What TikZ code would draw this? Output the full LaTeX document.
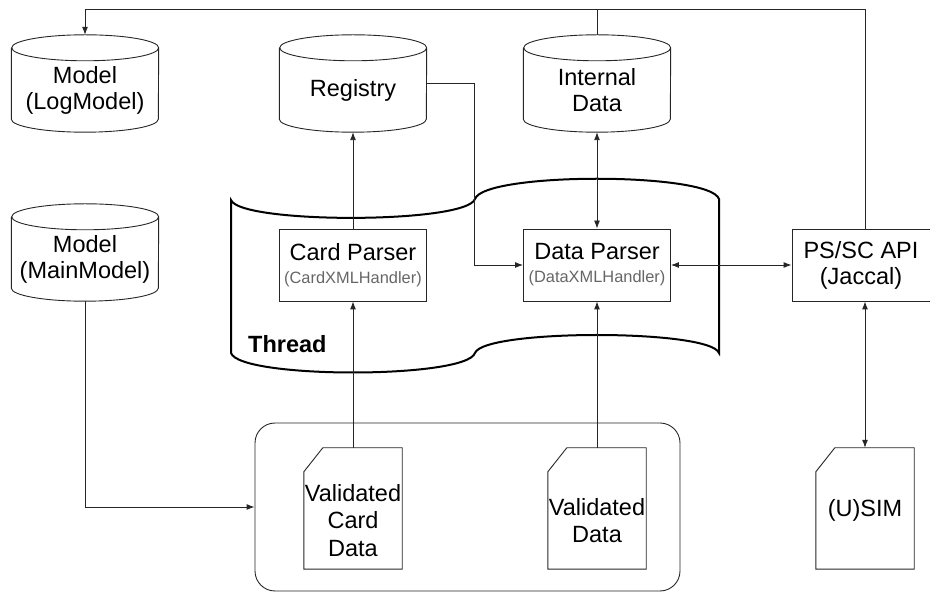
\documentclass[tikz,border=0pt]{standalone}
\usepackage{fontspec}
\setmainfont{Liberation Sans}
\usetikzlibrary{arrows.meta}

\newcommand{\handlertext}[1]{{\fontsize{16.4}{18}\selectfont\color{black!60}#1}}

\tikzset{
  base/.style={font=\fontsize{23.5}{26}\selectfont, inner sep=0pt, align=center},
  store/.style={base, text width=147pt, minimum height=84pt},
  parser/.style={base, draw=black!85, line width=0.9pt, minimum width=147pt, minimum height=72pt},
  doc/.style={base, font=\fontsize{23.5}{27.5}\selectfont, minimum width=98pt, minimum height=97pt},
  link/.style={line width=0.9pt, draw=black!85},
  >={Latex[length=8pt,width=6pt]}
}

\begin{document}
\begin{tikzpicture}[x=1pt,y=1pt]
  \useasboundingbox (0,0) rectangle (930,592);

  % data stores
  \node[store] (logm) at (85,502) {Model\\(LogModel)};
  \node[store] (reg) at (353,502) {Registry};
  \node[store] (intd) at (597,502) {Internal\\Data};
  \node[store] (mainm) at (85,333) {Model\\(MainModel)};
  \foreach \n in {logm,reg,intd,mainm}
    \draw[link] (\n.north west) -- ([yshift=13pt]\n.south west)
      arc[start angle=180,end angle=360,x radius=73.5pt,y radius=13pt]
      -- (\n.north east)
      arc[start angle=0,end angle=360,x radius=73.5pt,y radius=13pt];

  % thread
  \draw[line width=2pt] (231,392) .. controls (240,368) and (466,368) .. (475,393)
    .. controls (484,420) and (710,420) .. (719,393) -- (719,239)
    .. controls (710,263) and (484,263) .. (475,239)
    .. controls (466,213) and (240,213) .. (231,239) -- cycle;
  \node[font=\bfseries\fontsize{23.5}{26}\selectfont, anchor=base west, inner sep=0pt] (thr) at (248,239) {Thread};

  % parsers
  \node[parser] (cp) at (353,327) {Card Parser\\[-3pt]\handlertext{(CardXMLHandler)}};
  \node[parser] (dp) at (597,327) {Data Parser\\[-3pt]\handlertext{(DataXMLHandler)}};
  \node[parser, minimum width=138pt] (api) at (861,327) {PS/SC API\\(Jaccal)};

  % validated data
  \node[link, draw, rounded corners=20pt, minimum width=425pt, minimum height=168pt] (grp) at (467.5,85) {};
  \node[doc] (vcd) at (353,71.5) {Validated\\Card\\Data};
  \node[doc] (vd) at (597,71.5) {Validated\\Data};
  \node[doc] (usim) at (865,71.5) {\raisebox{4pt}[0pt][0pt]{(U)SIM}};
  \foreach \n in {vcd,vd,usim}
    \draw[link] (\n.south west) -- (\n.north west) -- ([shift={(19pt,24pt)}]\n.north west)
      -- ([yshift=24pt]\n.north east) -- (\n.south east) -- cycle;

  % connectors
  \coordinate (bus) at (597,582.5);
  \draw[link,->] (usim.north |- api.north) |- (bus) -| ([yshift=13pt]logm.north);
  \draw[link] ([yshift=13pt]intd.north) -- (bus);
  \draw[link,->] ([yshift=7pt]reg.east) -| ([xshift=-49pt]dp.west) -- (dp.west);
  \draw[link,->] (cp.north) -- (reg.south);
  \draw[link,->] ([yshift=24pt]vcd.north) -- (cp.south);
  \draw[link,->] ([yshift=24pt]vd.north) -- (dp.south);
  \draw[link,<->] (dp.north) -- (intd.south);
  \draw[link,<->] (dp.east) -- (api.west);
  \draw[link,<->] (usim.north |- api.south) -- ([yshift=24pt]usim.north);
  \draw[link,->] (mainm.south) |- (grp.west);
\end{tikzpicture}
\end{document}
